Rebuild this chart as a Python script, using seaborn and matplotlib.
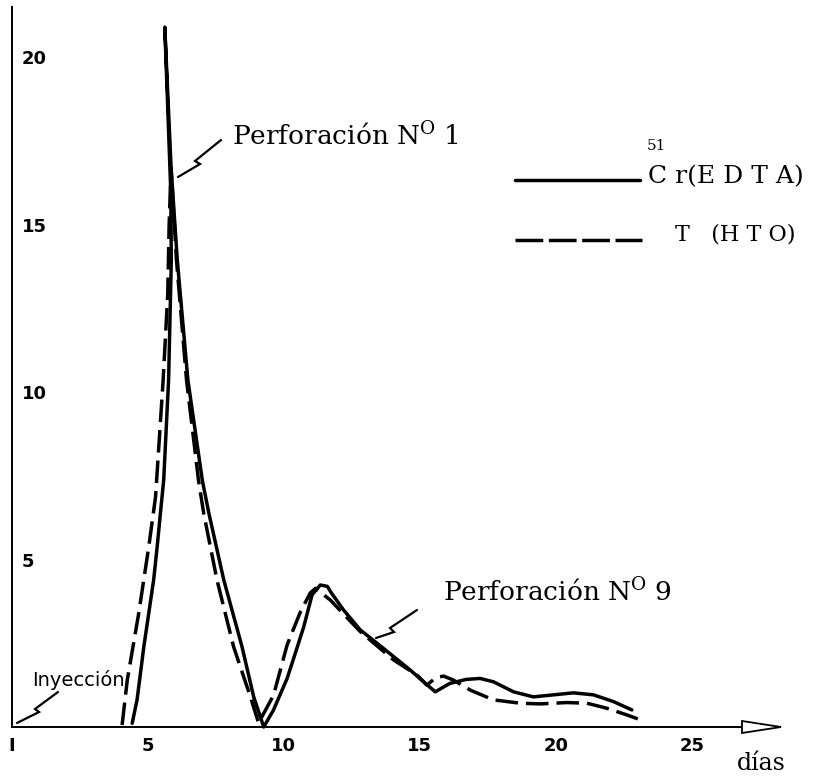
import matplotlib
matplotlib.use("Agg")
import matplotlib.pyplot as plt
from matplotlib.lines import Line2D
from matplotlib.patches import Polygon
import seaborn as sns

# ---- data ----
cr_days = [4.42, 4.60, 4.85, 5.21, 5.34, 5.46, 5.58, 5.76, 5.86, 5.84, 5.62, 5.85, 6.08, 6.47,
           7.00, 7.24, 7.79, 8.46, 8.89, 9.26, 9.62, 10.12, 10.42, 10.73, 11.04, 11.34, 11.60,
           11.75, 12.20, 12.81, 13.43, 14.04, 14.65, 15.14, 15.57, 16.10, 16.70, 17.22, 17.71,
           18.45, 19.18, 19.92, 20.65, 21.39, 22.12, 22.80]
cr_values = [0.11, 0.81, 2.40, 4.39, 5.38, 6.39, 7.37, 10.36, 13.94, 16.0, 20.9, 16.73, 13.94,
             10.36, 7.37, 6.39, 4.39, 2.40, 0.90, 0.0, 0.51, 1.45, 2.2, 2.99, 3.95, 4.24, 4.2,
             4.0, 3.49, 2.90, 2.50, 2.10, 1.70, 1.35, 1.05, 1.30, 1.42, 1.45, 1.35, 1.05, 0.90,
             0.96, 1.02, 0.96, 0.76, 0.51]
hto_days = [4.05, 4.24, 4.66, 5.03, 5.28, 5.56, 5.73, 5.78, 5.85, 6.05, 6.42, 6.86, 7.05, 7.54,
            8.15, 8.77, 9.07, 9.62, 10.12, 10.61, 10.97, 11.16, 11.71, 12.81, 14.04, 14.90,
            15.26, 15.60, 15.88, 16.24, 16.86, 17.71, 18.70, 19.43, 20.41, 21.15, 21.88, 22.62,
            23.23]
hto_values = [0.06, 1.40, 3.39, 5.38, 6.87, 10.36, 12.95, 15.0, 16.7, 13.94, 10.36, 7.37, 6.39,
              4.39, 2.40, 0.90, 0.12, 0.95, 2.45, 3.44, 4.0, 4.14, 3.79, 2.85, 2.0, 1.55, 1.25,
              1.48, 1.52, 1.40, 1.10, 0.81, 0.71, 0.69, 0.73, 0.71, 0.56, 0.36, 0.18]
x_ticks = [0, 5, 10, 15, 20, 25]
x_tick_labels = ["I", "5", "10", "15", "20", "25"]
y_ticks = [5, 10, 15, 20]
y_tick_labels = ["5", "10", "15", "20"]

sns.set_style("white")
plt.rcParams["font.family"] = ["DejaVu Sans"]
plt.rcParams["mathtext.fontset"] = "dejavuserif"
plt.rcParams["text.color"] = "black"
plt.rcParams["xtick.color"] = "black"
plt.rcParams["ytick.color"] = "black"
plt.rcParams["axes.labelcolor"] = "black"

W, H = 823, 777
fig = plt.figure(figsize=(W / 100, H / 100), dpi=100)
ax = fig.add_axes([12 / W, (H - 727) / H, 768 / W, 720 / H])

lw = 2.5
sns.lineplot(x=cr_days, y=cr_values, sort=False, estimator=None, color="black", lw=lw, ax=ax)
sns.lineplot(x=hto_days, y=hto_values, sort=False, estimator=None, color="black", lw=lw, ax=ax)
ax.lines[-1].set_dashes((6.5, 2.3))
for ln in ax.lines:
    ln.set_solid_capstyle("round")
    ln.set_solid_joinstyle("round")
    ln.set_clip_on(False)

ax.set_xlim(0, 28.25)
ax.set_ylim(0, 21.5)
sns.despine(ax=ax)
for s in ("left", "bottom"):
    ax.spines[s].set_linewidth(1.4)
    ax.spines[s].set_color("black")

ax.set_xticks(x_ticks)
ax.set_xticklabels(x_tick_labels, fontsize=13, fontweight="bold", color="black")
ax.set_yticks(y_ticks)
ax.set_yticklabels(y_tick_labels, fontsize=13, fontweight="bold", color="black")
ax.tick_params(axis="x", direction="in", length=7, width=1.3, pad=7, colors="black")
ax.tick_params(axis="y", direction="in", length=5, width=1.3, pad=-7, colors="black")
for t in ax.get_yticklabels():
    t.set_horizontalalignment("left")
ax.set_xlabel("")
ax.set_ylabel("")


def fx(px):
    return px / W


def fy(py):
    return 1 - py / H


# arrow head at the end of the x axis
fig.add_artist(Polygon([(fx(742), fy(721)), (fx(781), fy(727)), (fx(742), fy(733))],
                       closed=True, transform=fig.transFigure, facecolor="white",
                       edgecolor="black", lw=1.3, zorder=5))

# legend
fig.add_artist(Line2D([fx(515), fx(640)], [fy(180), fy(180)], transform=fig.transFigure,
                      color="black", lw=lw))
fig.add_artist(Line2D([fx(515), fx(642)], [fy(240), fy(240)], transform=fig.transFigure,
                      color="black", lw=lw, dashes=(8, 1.6)))
serif = ["DejaVu Serif"]
fig.text(fx(647), fy(150), "51", family=serif, fontsize=11, ha="left", va="baseline")
fig.text(fx(648), fy(183), "C r(E D T A)", family=serif, fontsize=18, ha="left", va="baseline")
fig.text(fx(675), fy(240), "T   (H T O)", family=serif, fontsize=16, ha="left", va="baseline")

# annotations
fig.text(fx(232), fy(145), r"Perforación N$^{\mathrm{O}}$ 1", family=serif, fontsize=19,
         ha="left", va="baseline")
fig.text(fx(443), fy(601), r"Perforación N$^{\mathrm{O}}$ 9", family=serif, fontsize=19,
         ha="left", va="baseline")
fig.text(fx(32), fy(686), "Inyección", family=["DejaVu Sans"], fontsize=14, ha="left",
         va="baseline")
fig.text(fx(737), fy(770), "días", family=serif, fontsize=17, ha="left", va="baseline")


def bolt(pts):
    xs = [fx(p[0]) for p in pts]
    ys = [fy(p[1]) for p in pts]
    fig.add_artist(Line2D(xs, ys, transform=fig.transFigure, color="black", lw=1.6,
                          solid_joinstyle="miter"))


bolt([(221, 140), (195, 161), (200, 164), (178, 177)])
bolt([(417, 610), (390, 628), (394, 632), (376, 638)])
bolt([(58, 692), (35, 709), (39, 712), (17, 723)])

fig.savefig("out.png", dpi=100)
